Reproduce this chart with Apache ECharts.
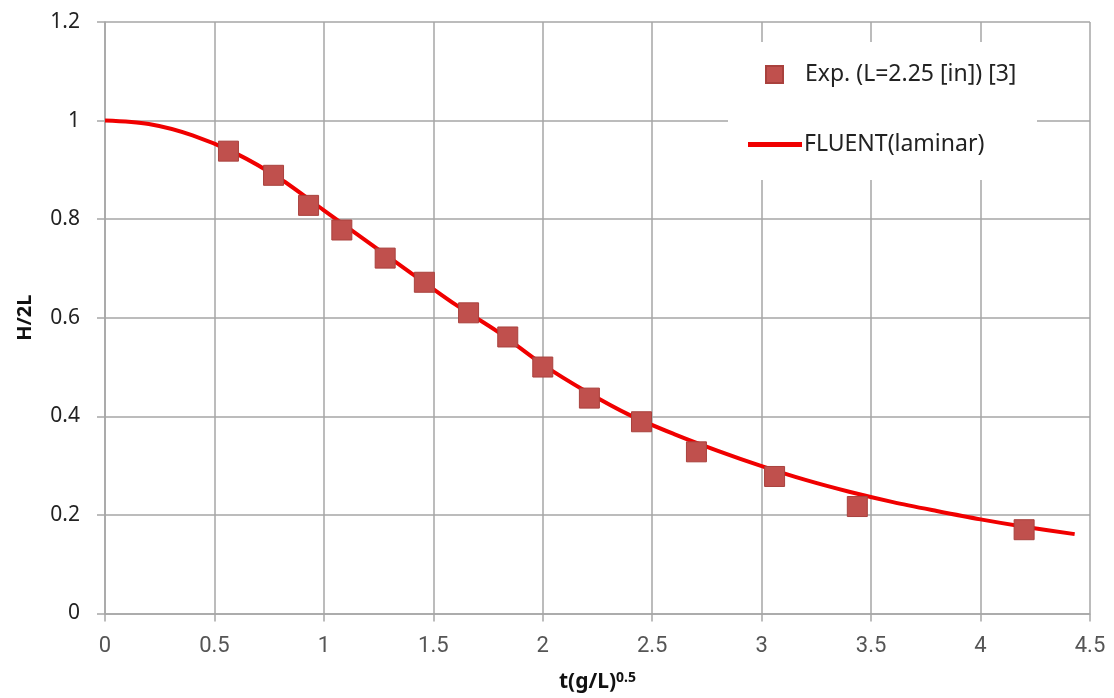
<!DOCTYPE html>
<html>
<head>
<meta charset="utf-8">
<script src="https://cdn.jsdelivr.net/npm/echarts@6/dist/echarts.min.js"></script>
<style>html,body{margin:0;padding:0;background:#fff;}#c{width:1114px;height:698px;}</style>
</head>
<body>
<div id="c"></div>
<script>
// Experimental points: [t(g/L)^0.5, H/2L]
var expX = [0.564, 0.770, 0.930, 1.082, 1.280, 1.459, 1.661, 1.840, 2.000, 2.213, 2.451, 2.702, 3.059, 3.437, 4.199];
var expY = [0.938, 0.889, 0.828, 0.778, 0.721, 0.672, 0.610, 0.561, 0.500, 0.437, 0.389, 0.328, 0.278, 0.217, 0.170];
// FLUENT (laminar) curve
var cfdX = [0, 0.2, 0.4, 0.6, 0.8, 1.0, 1.2, 1.4, 1.6, 1.8, 2.0, 2.2, 2.4, 2.6, 2.8, 3.0, 3.2, 3.4, 3.6, 3.8, 4.0, 4.2, 4.43];
var cfdY = [1.0, 0.993, 0.970, 0.933, 0.882, 0.818, 0.754, 0.690, 0.627, 0.570, 0.505, 0.450, 0.402, 0.364, 0.330, 0.299, 0.271, 0.247, 0.226, 0.208, 0.191, 0.176, 0.161];
var xTicks = ['0', '0.5', '1', '1.5', '2', '2.5', '3', '3.5', '4', '4.5'];
var yTicks = ['0', '0.2', '0.4', '0.6', '0.8', '1', '1.2'];
var expName = 'Exp. (L=2.25 [in]) [3]';
var cfdName = 'FLUENT(laminar)';

var expData = expX.map(function (x, i) { return [x, expY[i]]; });
var cfdData = cfdX.map(function (x, i) { return [x, cfdY[i]]; });

var chart = echarts.init(document.getElementById('c'), null, { renderer: 'canvas' });
var gridColor = '#a6a6a6';
chart.setOption({
  animation: false,
  backgroundColor: '#fff',
  grid: { left: 105, right: 24, top: 22, bottom: 81, containLabel: false },
  xAxis: {
    type: 'value', min: 0, max: 4.5, interval: 0.5,
    axisLine: { show: true, lineStyle: { color: gridColor, width: 1.5 } },
    axisTick: { show: true, length: 8, lineStyle: { color: gridColor, width: 1.5 } },
    splitLine: { show: true, lineStyle: { color: gridColor, width: 1.5 } },
    axisLabel: { margin: 22, fontSize: 22, color: '#555', fontFamily: 'Roboto',
      formatter: function (v) { var i = Math.round(v / 0.5); return xTicks[i] !== undefined ? xTicks[i] : ''; } },
    name: '{b|t(g/L)}{s|0.5}', nameLocation: 'middle', nameGap: 58,
    nameTextStyle: { rich: {
      b: { fontSize: 21, fontWeight: 'bold', color: '#111', fontFamily: 'Noto Sans' },
      s: { fontSize: 14, fontWeight: 'bold', color: '#111', fontFamily: 'Noto Sans', verticalAlign: 'top', padding: [0, 0, 8, 0] }
    } }
  },
  yAxis: {
    type: 'value', min: 0, max: 1.2, interval: 0.2,
    axisLine: { show: true, lineStyle: { color: gridColor, width: 1.5 } },
    axisTick: { show: true, length: 8, lineStyle: { color: gridColor, width: 1.5 } },
    splitLine: { show: true, lineStyle: { color: gridColor, width: 1.5 } },
    axisLabel: { margin: 25, fontSize: 21, color: '#222', fontFamily: 'Noto Sans',
      formatter: function (v) { var i = Math.round(v / 0.2); return yTicks[i] !== undefined ? yTicks[i] : ''; } },
    name: 'H/2L', nameLocation: 'middle', nameGap: 70, nameRotate: 90,
    nameTextStyle: { fontSize: 20, fontWeight: 'bold', color: '#111', fontFamily: 'Noto Sans' }
  },
  graphic: [{
    type: 'rect', left: 728, top: 42, z: 5,
    shape: { width: 309, height: 138 },
    style: { fill: '#fff' }
  }],
  legend: [{
    data: [{ name: expName, icon: 'rect', itemStyle: { opacity: 1 } }],
    left: 760, top: 58, z: 10,
    itemWidth: 17, itemHeight: 17,
    textStyle: { fontSize: 23, color: '#222', fontFamily: 'Noto Sans', padding: [0, 0, 0, 17] }
  }, {
    data: [{ name: cfdName, icon: 'rect' }],
    left: 743, top: 128, z: 10,
    itemWidth: 54, itemHeight: 5,
    textStyle: { fontSize: 23, color: '#222', fontFamily: 'Noto Sans', padding: [0, 0, 0, -3] }
  }],
  series: [{
    name: cfdName, type: 'line', data: cfdData, smooth: 0.3,
    symbol: 'none', z: 2,
    lineStyle: { color: '#f00000', width: 4 },
    itemStyle: { color: '#f00000' }
  }, {
    name: expName, type: 'scatter', data: expData, symbol: 'rect', symbolSize: 20, z: 3,
    itemStyle: { color: '#c0504d', borderColor: '#a9413d', borderWidth: 1, opacity: 1 }
  }]
});
</script>
</body>
</html>
